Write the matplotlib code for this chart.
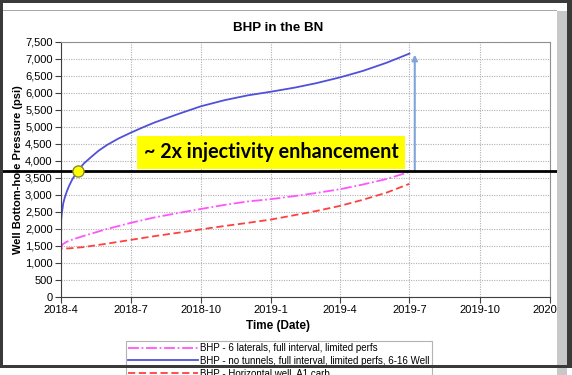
import matplotlib
matplotlib.use("Agg")
import matplotlib.pyplot as plt
import matplotlib.dates as mdates
from matplotlib.patches import Rectangle
from matplotlib.ticker import FuncFormatter
import pandas as pd

plt.rcParams['font.family'] = ['Liberation Sans', 'DejaVu Sans']

# series (psi)
blue_dates = ["2018-04-01", "2018-04-01 06:00", "2018-04-02", "2018-04-04", "2018-04-06",
              "2018-04-09", "2018-04-12", "2018-04-16", "2018-04-23", "2018-05-01",
              "2018-05-09", "2018-05-20", "2018-05-31", "2018-06-15", "2018-07-01",
              "2018-07-15", "2018-08-01", "2018-09-01", "2018-10-01", "2018-11-01",
              "2018-12-01", "2019-01-01", "2019-02-01", "2019-03-01", "2019-04-01",
              "2019-05-01", "2019-06-01", "2019-07-01"]
blue_bhp = [1300, 2250, 2450, 2750, 2920, 3120, 3280, 3460, 3700, 3920, 4080, 4290,
            4460, 4650, 4820, 4960, 5120, 5370, 5600, 5780, 5920, 6030, 6150, 6280,
            6450, 6640, 6880, 7150]

magenta_dates = ["2018-04-01", "2018-04-03", "2018-04-08", "2018-04-17", "2018-05-01",
                 "2018-05-31", "2018-07-01", "2018-08-01", "2018-09-01", "2018-10-01",
                 "2018-11-01", "2018-12-01", "2019-01-01", "2019-02-01", "2019-03-01",
                 "2019-04-01", "2019-05-01", "2019-06-01", "2019-07-01"]
magenta_bhp = [1430, 1540, 1610, 1690, 1790, 1990, 2170, 2330, 2460, 2580, 2700, 2800,
               2870, 2960, 3050, 3160, 3300, 3460, 3670]

red_dates = ["2018-04-01", "2018-04-01 06:00", "2018-04-11", "2018-05-01", "2018-05-31",
             "2018-07-01", "2018-08-01", "2018-09-01", "2018-10-01", "2018-11-01",
             "2018-12-01", "2019-01-01", "2019-02-01", "2019-03-01", "2019-04-01",
             "2019-05-01", "2019-06-01", "2019-07-01"]
red_bhp = [1250, 1420, 1420, 1460, 1560, 1670, 1780, 1880, 1980, 2080, 2170, 2270, 2400,
           2520, 2670, 2850, 3060, 3320]

labels = ["BHP - 6 laterals, full interval, limited perfs",
          "BHP - no tunnels, full interval, limited perfs, 6-16 Well",
          "BHP - Horizontal well, A1 carb"]

threshold = 3690
cross_date = "2018-04-23"
arrow_date = "2019-07-08"
arrow_top = 7120
note = "~ 2x injectivity enhancement"


def dates(lst):
    return pd.to_datetime(lst, format="mixed")


W, H = 572, 375
fig = plt.figure(figsize=(W / 100, H / 100), dpi=100)
fig.patch.set_facecolor("white")
ax = fig.add_axes([61 / W, 1 - 296.7 / H, 489 / W, 255 / H])

l1, = ax.plot(dates(magenta_dates), magenta_bhp, color="#ff55ff", lw=1.3,
              linestyle=(0, (6, 1.5, 1, 1.5)))
l2, = ax.plot(dates(blue_dates), blue_bhp, color="#5050d8", lw=1.3)
l3, = ax.plot(dates(red_dates), red_bhp, color="#ff4040", lw=1.3,
              linestyle=(0, (4, 2)))

ax.set_xlim(pd.Timestamp("2018-04-01"), pd.Timestamp("2020-01-01"))
ax.set_ylim(0, 7500)
ax.set_yticks(range(0, 7501, 500))
ax.yaxis.set_major_formatter(FuncFormatter(lambda v, p: f"{int(v):,}"))
ax.xaxis.set_major_locator(mdates.MonthLocator(bymonth=[1, 4, 7, 10]))
ax.xaxis.set_major_formatter(FuncFormatter(
    lambda v, p: f"{mdates.num2date(v).year}-{mdates.num2date(v).month}"))
ax.tick_params(labelsize=8, length=4, width=0.8, color="#404040", pad=2)
ax.grid(True, color="#b0b0b0", linestyle=(0, (1, 1.2)), lw=0.8)
for s in ["left", "bottom"]:
    ax.spines[s].set_color("#404040")
for s in ["top", "right"]:
    ax.spines[s].set_color("#909090")

ax.set_ylabel("Well Bottom-hole Pressure (psi)", fontsize=8, fontweight="bold")
ax.yaxis.set_label_coords(-0.078, 0.5)
ax.set_xlabel("Time (Date)", fontsize=8.5, fontweight="bold")
ax.xaxis.set_label_coords(0.444, -0.09)
fig.text(278 / W, 1 - 28 / H, "BHP in the BN", ha="center", va="center",
         fontsize=9.6, fontweight="bold")

# threshold line, crossing marker, arrow and note
ax.axhline(threshold, xmin=-0.119, xmax=1.035, color="black", lw=2, clip_on=False, zorder=5)
ax.plot(pd.Timestamp(cross_date), threshold, "o", ms=8, mfc="#ffff00", mec="#8a8a30",
        mew=1, zorder=6)
ax.annotate("", xy=(pd.Timestamp(arrow_date), arrow_top),
            xytext=(pd.Timestamp(arrow_date), threshold),
            arrowprops=dict(arrowstyle="-|>", color="#80a4da", lw=1.5, mutation_scale=8,
                            shrinkA=0, shrinkB=0))
ax.text(pd.Timestamp("2019-01-01"), 4250, note, ha="center", va="center",
        fontsize=14.2, fontweight="bold", family=["Lato", "DejaVu Sans"],
        bbox=dict(boxstyle="square,pad=0.32", fc="#ffff00", ec="none"), zorder=7)

leg = fig.legend([l1, l2, l3], labels, loc="upper left",
                 bbox_to_anchor=(126 / W, 1 - 341 / H), fontsize=7, frameon=True,
                 fancybox=False, handlelength=7.2, handletextpad=0.2, labelspacing=0.25,
                 borderpad=0.25, borderaxespad=0)
leg.get_frame().set_edgecolor("#a0a0a0")
leg.get_frame().set_linewidth(0.8)


# screenshot frame
def px_rect(x, y, w, h, color, z=20):
    fig.add_artist(Rectangle((x / W, 1 - (y + h) / H), w / W, h / H,
                             transform=fig.transFigure, fc=color, ec="none", zorder=z))


px_rect(3, 10, 554, 1, "#a8a8a8")
px_rect(557, 11, 10, 364, "#c8c8c8")
px_rect(0, 0, W, 3, "#3a3a3a")
px_rect(0, 0, 3, 368, "#3a3a3a")
px_rect(567, 0, 5, 368, "#3a3a3a")
px_rect(0, 365, 567, 3, "#3a3a3a")

fig.savefig("out.png", dpi=100)
